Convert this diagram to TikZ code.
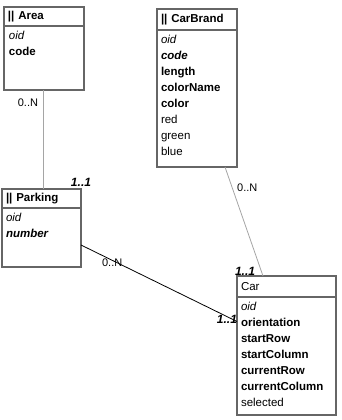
\documentclass[tikz,border=0pt]{standalone}
\usepackage{fontspec}
\setmainfont{Liberation Sans}
\usetikzlibrary{positioning}
\definecolor{framegray}{RGB}{102,102,102}
\definecolor{linkgray}{RGB}{165,165,165}

\begin{document}
\begin{tikzpicture}[
    x=1pt, y=-1pt,
    every node/.style={inner sep=0pt, outer sep=0pt},
    frame/.style={draw=framegray, line width=1.3pt, anchor=north west},
    title/.style={frame, inner xsep=4pt, align=left, font=\fontsize{11.5}{14}\selectfont},
    attrs/.style={align=left, font=\fontsize{11.5}{16}\selectfont},
    mult/.style={font=\fontsize{11}{12}\selectfont},
    multone/.style={font=\fontsize{12}{12}\selectfont\bfseries\itshape},
    weak/.style={draw=linkgray, line width=0.8pt},
    strong/.style={draw=black, line width=0.8pt}
]
\useasboundingbox (0,0) rectangle (342,420);

\node[frame, minimum width=80pt, minimum height=83pt] (area) at (4,7) {};
\node[title, minimum width=80pt, minimum height=19pt, text width=72pt] (areatitle) at (area.north west) {\textbf{|| Area}};
\node[attrs, below right=5pt and 5pt of areatitle.south west] (areaattrs) {\textit{oid}\\\textbf{code}};

\node[frame, minimum width=80pt, minimum height=158pt] (brand) at (157,9) {};
\node[title, minimum width=80pt, minimum height=21pt, text width=72pt] (brandtitle) at (brand.north west) {\textbf{|| CarBrand}};
\node[attrs, below right=5pt and 4pt of brandtitle.south west] (brandattrs) {\textit{oid}\\\textbf{\textit{code}}\\\textbf{length}\\\textbf{colorName}\\\textbf{color}\\red\\green\\blue};

\node[frame, minimum width=79pt, minimum height=78pt] (parking) at (2,189) {};
\node[title, minimum width=79pt, minimum height=19pt, text width=71pt] (parkingtitle) at (parking.north west) {\textbf{|| Parking}};
\node[attrs, below right=5pt and 4pt of parkingtitle.south west] (parkingattrs) {\textit{oid}\\\textbf{\textit{number}}};

\node[frame, minimum width=99pt, minimum height=139pt] (car) at (237,276) {};
\node[title, minimum width=99pt, minimum height=21pt, text width=91pt] (cartitle) at (car.north west) {Car};
\node[attrs, below right=5pt and 4pt of cartitle.south west] (carattrs) {\textit{oid}\\\textbf{orientation}\\\textbf{startRow}\\\textbf{startColumn}\\\textbf{currentRow}\\\textbf{currentColumn}\\selected};

\draw[weak] ([xshift=-1pt]area.south) -- ([xshift=-1pt]area.south |- parking.north)
    node[mult, pos=0.13, left=5pt] {0..N};
\node[multone, above=3pt of parking.north east] {1..1};

\draw[weak] ([xshift=-12pt]brand.south east) -- ([xshift=26pt]car.north west)
    node[mult, pos=0.19, right=5pt] {0..N};
\node[multone, above right=1pt and -2pt of car.north west] {1..1};

\draw[strong] ([yshift=-17pt]parking.east) -- ([yshift=24pt]car.west)
    node[mult, pos=0.2, yshift=-2pt] {0..N}
    node[multone, at end, anchor=east, yshift=2pt] {1..1};

\end{tikzpicture}
\end{document}
